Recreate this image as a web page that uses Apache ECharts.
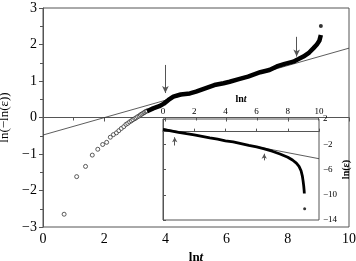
<!DOCTYPE html>
<html>
<head>
<meta charset="utf-8">
<script src="https://cdn.jsdelivr.net/npm/echarts@6/dist/echarts.min.js"></script>
<style>
html, body { margin: 0; padding: 0; background: #fff; }
#main { width: 356px; height: 261px; }
</style>
</head>
<body>
<div id="main"></div>
<script>
// main plot: sparse open circles, then the dense part drawn as a thick curve
var MAIN_SPARSE = [
	[0.69, -2.65], [1.10, -1.62], [1.39, -1.34], [1.61, -1.03], [1.79, -0.87],
	[1.95, -0.74], [2.08, -0.68], [2.20, -0.54], [2.30, -0.47], [2.40, -0.42],
	[2.48, -0.36], [2.56, -0.30], [2.64, -0.25], [2.71, -0.19], [2.77, -0.16],
	[2.83, -0.12], [2.89, -0.09], [2.94, -0.06], [3.00, -0.03], [3.04, -0.01],
	[3.09, 0.02], [3.14, 0.04], [3.18, 0.07], [3.22, 0.09], [3.26, 0.11],
	[3.30, 0.13], [3.33, 0.15], [3.37, 0.17], [3.40, 0.18]
];
var MAIN_DENSE = [
	[3.40, 0.17], [3.60, 0.25], [3.80, 0.31], [3.95, 0.38], [4.10, 0.48],
	[4.26, 0.57], [4.50, 0.63], [4.80, 0.66], [5.00, 0.71], [5.30, 0.80],
	[5.60, 0.89], [5.90, 0.94], [6.10, 0.98], [6.40, 1.05], [6.70, 1.12],
	[7.10, 1.24], [7.40, 1.30], [7.64, 1.40], [7.90, 1.47], [8.18, 1.53],
	[8.35, 1.60], [8.51, 1.67], [8.70, 1.78], [8.84, 1.90], [8.95, 2.00],
	[9.03, 2.10], [9.08, 2.26]
];
var MAIN_LAST = [[9.08, 2.51]];
var MAIN_FIT = [[0, -0.48], [10, 1.90]];
// [x, yFrom, yTo]
var MAIN_ARROWS = [[4.0, 1.44, 0.67], [8.29, 2.21, 1.67]];

// inset plot
var INSET_CURVE = [
	[0.0, 0.35], [0.5, 0.12], [1.0, -0.12], [1.5, -0.33], [2.0, -0.52],
	[2.5, -0.75], [3.0, -0.98], [3.5, -1.20], [4.0, -1.45], [4.5, -1.62],
	[5.0, -1.90], [5.5, -2.18], [6.0, -2.42], [6.5, -2.72], [7.0, -3.10],
	[7.5, -3.55], [8.0, -4.05], [8.3, -4.50], [8.55, -5.00], [8.72, -5.50],
	[8.85, -6.20], [8.93, -7.00], [8.98, -7.80], [9.02, -8.60], [9.05, -9.40],
	[9.06, -9.80]
];
var INSET_LAST = [[9.08, -12.2]];
var INSET_FIT = [[0, 0.47], [10, -4.29]];
var INSET_ARROWS = [[0.75, -2.2, -0.9], [6.49, -4.55, -3.5]];
var INSET_Y_TICKS = [2, -2, -6, -10, -14];

var FONT = 'Liberation Serif';
var AXIS_COLOR = '#555';

function minus(v) {
	return String(v).replace('-', '\u2212');
}

function arrowLines(list) {
	return list.map(function(a) {
		return [{ coord: [a[0], a[1]] }, { coord: [a[0], a[2]] }];
	});
}

var chart = echarts.init(document.getElementById('main'));

var option = {
	animation: false,
	grid: [{
		left: 43, top: 8, right: 7, bottom: 34, outerBoundsMode: 'none',
		show: true, borderColor: AXIS_COLOR, borderWidth: 1
	}, {
		left: 163, top: 119, width: 156, height: 101, outerBoundsMode: 'none',
		show: true, borderColor: AXIS_COLOR, borderWidth: 1, backgroundColor: '#fff'
	}],
	xAxis: [{
		gridIndex: 0, type: 'value', min: 0, max: 10, interval: 2,
		name: '{b|ln}{i|t}', nameLocation: 'middle', nameGap: 24,
		nameTextStyle: {
			rich: {
				b: { fontFamily: FONT, fontSize: 13, fontWeight: 'bold', color: '#000' },
				i: { fontFamily: FONT, fontSize: 13, fontWeight: 'bold', fontStyle: 'italic', color: '#000' }
			}
		},
		axisLine: { lineStyle: { color: AXIS_COLOR } },
		axisTick: { length: 4, lineStyle: { color: AXIS_COLOR } },
		minorTick: { show: true, splitNumber: 2, length: 3, lineStyle: { color: AXIS_COLOR } },
		splitLine: { show: false },
		axisLabel: { fontFamily: FONT, fontSize: 14, color: '#000', margin: 5 }
	}, {
		gridIndex: 1, type: 'value', min: 0, max: 10, interval: 2, position: 'top',
		name: '{b|ln}{i|t}', nameLocation: 'middle', nameGap: 15,
		nameTextStyle: {
			rich: {
				b: { fontFamily: FONT, fontSize: 10, fontWeight: 'bold', color: '#000' },
				i: { fontFamily: FONT, fontSize: 10, fontWeight: 'bold', fontStyle: 'italic', color: '#000' }
			}
		},
		axisLine: { lineStyle: { color: AXIS_COLOR } },
		axisTick: { length: 3, lineStyle: { color: AXIS_COLOR } },
		splitLine: { show: false },
		axisLabel: { fontFamily: FONT, fontSize: 9, color: '#000', margin: 3 }
	}],
	yAxis: [{
		gridIndex: 0, type: 'value', min: -3, max: 3, interval: 1,
		name: 'ln(\u2212ln(\u03b5))', nameLocation: 'middle', nameGap: 27, nameRotate: 90,
		nameTextStyle: { fontFamily: FONT, fontSize: 13, color: '#000' },
		axisLine: { show: true, lineStyle: { color: AXIS_COLOR } },
		axisTick: { show: true, length: 4, lineStyle: { color: AXIS_COLOR } },
		minorTick: { show: true, splitNumber: 2, length: 3, lineStyle: { color: AXIS_COLOR } },
		splitLine: { show: false },
		axisLabel: { fontFamily: FONT, fontSize: 14, color: '#000', margin: 6, formatter: minus }
	}, {
		gridIndex: 1, type: 'value', min: -14, max: 2, position: 'right',
		name: 'ln(\u03b5)', nameLocation: 'middle', nameGap: 15, nameRotate: 90,
		nameTextStyle: { fontFamily: FONT, fontSize: 10, fontWeight: 'bold', color: '#000' },
		axisLine: { show: true, lineStyle: { color: AXIS_COLOR } },
		axisTick: { show: true, length: 3, customValues: INSET_Y_TICKS, lineStyle: { color: AXIS_COLOR } },
		splitLine: { show: false },
		axisLabel: { fontFamily: FONT, fontSize: 9, color: '#000', margin: 4, customValues: INSET_Y_TICKS, formatter: minus }
	}],
	series: [{
		type: 'line', xAxisIndex: 0, yAxisIndex: 0, data: MAIN_FIT,
		showSymbol: false, lineStyle: { color: '#333', width: 0.8 },
		markLine: {
			silent: true, symbol: ['none', 'arrow'], symbolSize: [5, 7],
			label: { show: false },
			lineStyle: { color: '#555', width: 1, type: 'solid' },
			data: arrowLines(MAIN_ARROWS)
		}
	}, {
		type: 'scatter', xAxisIndex: 0, yAxisIndex: 0, data: MAIN_SPARSE,
		symbol: 'circle', symbolSize: 4,
		itemStyle: { color: '#fff', borderColor: '#333', borderWidth: 1 }
	}, {
		type: 'line', xAxisIndex: 0, yAxisIndex: 0, data: MAIN_DENSE,
		showSymbol: false, lineStyle: { color: '#000', width: 4.5 }
	}, {
		type: 'scatter', xAxisIndex: 0, yAxisIndex: 0, data: MAIN_LAST,
		symbolSize: 4, itemStyle: { color: '#000' }
	}, {
		type: 'line', xAxisIndex: 1, yAxisIndex: 1, data: INSET_FIT,
		showSymbol: false, lineStyle: { color: '#333', width: 0.8 },
		markLine: {
			silent: true, symbol: ['none', 'arrow'], symbolSize: [4, 5],
			label: { show: false },
			lineStyle: { color: '#555', width: 1, type: 'solid' },
			data: arrowLines(INSET_ARROWS)
		}
	}, {
		type: 'line', xAxisIndex: 1, yAxisIndex: 1, data: INSET_CURVE,
		showSymbol: false, lineStyle: { color: '#000', width: 2.8 }
	}, {
		type: 'scatter', xAxisIndex: 1, yAxisIndex: 1, data: INSET_LAST,
		symbolSize: 3, itemStyle: { color: '#000' }
	}]
};

chart.setOption(option);
</script>
</body>
</html>
